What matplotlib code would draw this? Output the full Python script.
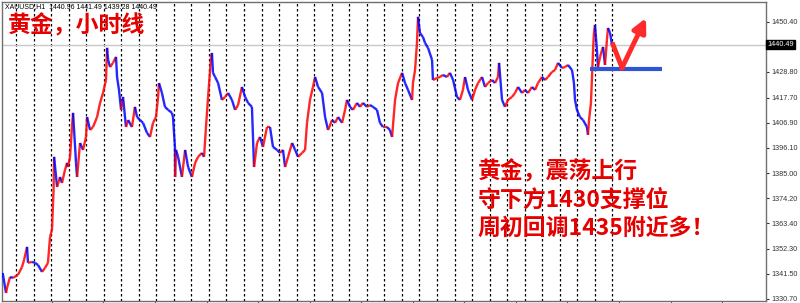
import numpy as np
import matplotlib
matplotlib.use("Agg")
import matplotlib.pyplot as plt
from matplotlib.collections import LineCollection
import matplotlib.transforms as mtransforms

plt.rcParams['font.family'] = ['Noto Sans CJK SC', 'DejaVu Sans']

# XAUUSD H1, time in trading days (0 = first day separator), price
day = [-0.76, -0.57, -0.50, -0.34, -0.17, 0.11, 0.34, 0.46, 0.63, 0.68, 0.91, 1.08, 1.25, 1.48,
       1.65, 1.82, 1.94, 2.05, 2.11, 2.14, 2.17, 2.34, 2.51, 2.62, 2.79, 2.91, 2.96, 3.08, 3.19,
       3.25, 3.31, 3.42, 3.48, 3.65, 3.82, 3.99, 4.05, 4.22, 4.39, 4.62, 4.79, 4.96, 5.13, 5.19,
       5.25, 5.36, 5.53, 5.70, 5.76, 5.87, 5.99, 6.10, 6.27, 6.39, 6.61, 6.78, 6.90, 7.07, 7.24,
       7.47, 7.64, 7.81, 7.98, 8.10, 8.15, 8.32, 8.49, 8.67, 8.89, 8.95, 9.06, 9.07, 9.12, 9.24,
       9.46, 9.64, 9.81, 10.03, 10.21, 10.38, 10.60, 10.72, 10.83, 10.95, 11.12, 11.17, 11.23,
       11.35, 11.52, 11.74, 11.92, 12.09, 12.31, 12.49, 12.66, 12.88, 13.06, 13.23, 13.45, 13.51,
       13.57, 13.74, 13.91, 14.08, 14.31, 14.48, 14.65, 14.88, 15.05, 15.22, 15.34, 15.51, 15.74,
       15.91, 16.08, 16.31, 16.48, 16.59, 16.76, 16.93, 17.05, 17.22, 17.45, 17.62, 17.79, 18.02,
       18.19, 18.36, 18.59, 18.76, 18.87, 19.04, 19.21, 19.44, 19.61, 19.78, 20.01, 20.18, 20.35,
       20.58, 20.75, 20.92, 21.15, 21.32, 21.44, 21.61, 21.78, 22.01, 22.18, 22.35, 22.58, 22.63,
       22.75, 22.86, 22.92, 23.03, 23.20, 23.32, 23.49, 23.72, 23.77, 24.00, 24.17, 24.34, 24.57,
       24.74, 24.92, 25.14, 25.31, 25.48, 25.60, 25.77, 26.00, 26.17, 26.34, 26.57, 26.74, 26.91,
       27.14, 27.31, 27.48, 27.54, 27.71, 27.88, 28.05, 28.28, 28.45, 28.62, 28.85, 29.02, 29.19,
       29.42, 29.59, 29.76, 29.99, 30.16, 30.33, 30.56, 30.73, 30.90, 31.13, 31.30, 31.47, 31.70,
       31.81, 31.87, 31.98, 32.15, 32.33, 32.55, 32.61, 32.67, 32.78, 32.84, 32.90, 32.95, 33.01,
       33.12, 33.18, 33.30, 33.41, 33.47, 33.58, 33.69, 33.75, 33.87, 33.98]
price = [1341.9, 1333.3, 1335.9, 1340.2, 1339.8, 1341.1, 1344.5, 1347.6, 1353.2, 1346.3, 1346.7,
         1346.3, 1345.4, 1342.4, 1344.1, 1346.3, 1357.5, 1360.5, 1372.2, 1377.8, 1392.1, 1379.1,
         1383.4, 1380.8, 1386.4, 1389.5, 1387.7, 1392.1, 1405.0, 1411.1, 1403.7, 1389.5, 1383.4,
         1398.1, 1395.1, 1400.7, 1409.3, 1403.7, 1405.0, 1409.3, 1415.4, 1419.7, 1425.3, 1439.2,
         1434.0, 1430.9, 1432.7, 1435.3, 1426.6, 1421.0, 1412.4, 1418.0, 1405.0, 1408.0, 1405.0,
         1413.7, 1409.3, 1408.0, 1406.8, 1402.4, 1400.7, 1406.8, 1409.3, 1418.0, 1424.0, 1419.7,
         1413.7, 1412.4, 1411.1, 1409.3, 1396.4, 1383.4, 1395.1, 1392.1, 1383.4, 1395.1, 1387.7,
         1383.4, 1389.5, 1392.1, 1393.8, 1392.1, 1405.0, 1418.0, 1435.3, 1437.0, 1428.4, 1426.6,
         1424.0, 1416.7, 1418.0, 1419.7, 1416.7, 1412.4, 1414.5, 1422.3, 1418.0, 1415.4, 1413.7,
         1400.7, 1387.7, 1398.1, 1400.7, 1396.4, 1405.0, 1405.0, 1396.4, 1395.1, 1393.8, 1395.1,
         1387.7, 1392.1, 1398.1, 1395.1, 1392.1, 1393.8, 1395.1, 1406.8, 1416.7, 1422.3, 1426.6,
         1422.3, 1419.7, 1409.3, 1403.7, 1408.0, 1406.8, 1409.3, 1406.8, 1412.4, 1416.7, 1413.7,
         1412.4, 1415.4, 1413.7, 1415.4, 1413.7, 1414.5, 1413.7, 1412.4, 1406.8, 1405.0, 1405.0,
         1403.7, 1400.7, 1416.7, 1424.0, 1428.4, 1424.0, 1421.0, 1416.7, 1424.0, 1429.6, 1441.3,
         1452.6, 1445.6, 1443.9, 1441.3, 1439.2, 1434.0, 1425.3, 1426.2, 1426.6, 1427.5, 1426.6,
         1428.4, 1425.3, 1418.0, 1416.7, 1421.0, 1426.6, 1421.0, 1416.7, 1421.0, 1424.0, 1426.6,
         1422.3, 1424.0, 1425.3, 1424.0, 1426.6, 1432.7, 1416.7, 1413.7, 1416.7, 1418.0, 1419.7,
         1422.3, 1419.7, 1421.0, 1419.7, 1422.3, 1421.0, 1424.0, 1426.6, 1425.3, 1426.6, 1428.8,
         1429.6, 1432.7, 1430.5, 1430.9, 1431.8, 1429.6, 1424.0, 1416.7, 1412.4, 1409.3, 1408.0,
         1405.0, 1401.6, 1408.0, 1415.4, 1426.6, 1438.3, 1445.6, 1449.1, 1438.3, 1430.9, 1435.3,
         1438.3, 1439.6, 1431.8, 1442.6, 1447.8, 1445.6, 1440.49]

header = "XAUUSD,H1  1440.96 1441.49 1439.28 1440.49"
price_ticks = [1450.40, 1428.80, 1417.70, 1406.90, 1396.10, 1385.00,
               1374.20, 1363.40, 1352.30, 1341.50, 1330.70]
last_price = 1440.49
support = 1430.0
arrow_days = [34.04, 34.55, 35.92]
arrow_prices = [1440.5, 1430.6, 1452.1]
title = "黄金，小时线"
comment = ["黄金，震荡上行", "守下方1430支撑位", "周初回调1435附近多！"]

fig = plt.figure(figsize=(8, 3.03), dpi=100)
ax = fig.add_axes([0.0025, 0.005, 0.955, 0.9868])
ax.set_xlim(-0.80, 42.76)
ax.set_ylim(1329.6, 1458.8)

# day separators
for d in range(35):
    ax.axvline(d, color='black', ls=(0, (2, 2)), lw=0.9, zorder=1)

# current price line
ax.axhline(last_price, color='#c8c8c8', lw=1, zorder=1)

# price path coloured by direction
pts = np.column_stack([day, price])
segs = np.stack([pts[:-1], pts[1:]], axis=1)
cols = ['#ff0000' if b >= a else '#0000ff' for a, b in zip(price[:-1], price[1:])]
lc = LineCollection(segs, colors=cols, linewidths=1.7, alpha=0.85, zorder=3)
ax.add_collection(lc)

# support line and arrow
ax.plot([32.73, 36.83], [support, support], color='#2f55d4', lw=3, solid_capstyle='butt', zorder=4)
ax.plot(arrow_days[:2], arrow_prices[:2], color='#ff2a2a', lw=3.5, zorder=5)
ax.annotate('', xy=(arrow_days[2], arrow_prices[2]), xytext=(arrow_days[1], arrow_prices[1]),
            arrowprops=dict(arrowstyle='-|>', color='#ff2a2a', lw=3.5, mutation_scale=20,
                            shrinkA=0, shrinkB=0), zorder=5)

# axes styling
ax.yaxis.tick_right()
ax.set_yticks(price_ticks)
ax.set_yticklabels([f"{v:.2f}" for v in price_ticks], family='Liberation Sans', fontsize=5.2)
ax.tick_params(axis='y', length=2.5, width=0.8, pad=1.5, colors='#333333')
ax.set_xticks(np.arange(2.04, 42, 2.94))
ax.set_xticklabels([])
ax.tick_params(axis='x', length=3, width=0.8, colors='#555555')
for s in ax.spines.values():
    s.set_color('#707070')
    s.set_linewidth(1)

trans = mtransforms.blended_transform_factory(ax.transAxes, ax.transData)
ax.text(1.002, last_price, f"{last_price:.2f}", transform=trans, va='center', ha='left',
        family='Liberation Sans', fontsize=5.2, color='white',
        bbox=dict(boxstyle='square,pad=0.15', fc='black', ec='black'))

ax.text(0.004, 0.988, header, transform=ax.transAxes, family='Liberation Sans',
        fontsize=5, va='center', ha='left', color='black')
ax.text(0.008, 0.922, title, transform=ax.transAxes, fontsize=16.5, fontweight='bold',
        color='#e60000', va='center', ha='left', zorder=6)
for i, line in enumerate(comment):
    ax.text(0.623, 0.433 - i * 0.0936, line, transform=ax.transAxes, fontsize=16.5,
            fontweight='bold', color='#e60000', va='center', ha='left', zorder=6)

fig.savefig("out.png", dpi=100)
